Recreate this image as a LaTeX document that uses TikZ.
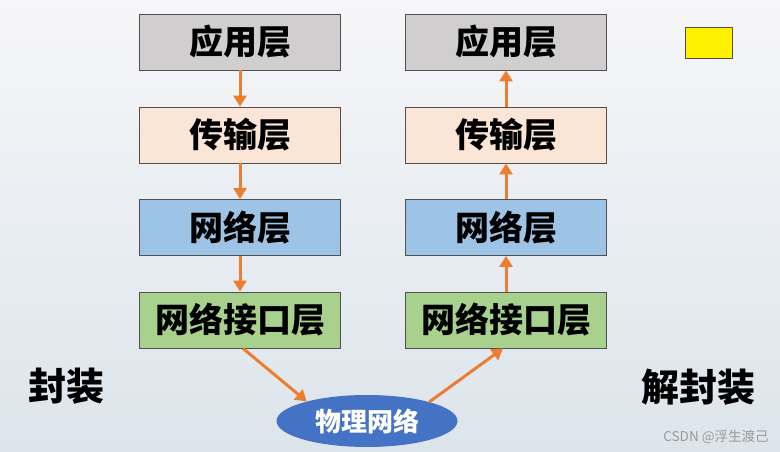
\documentclass[tikz,border=0pt]{standalone}
\usepackage{fontspec}
\newfontfamily\cjk{Noto Sans CJK SC}
\usetikzlibrary{arrows.meta,shapes.geometric}
\definecolor{grayfill}{HTML}{D0CECE}
\definecolor{peach}{HTML}{FBE5D6}
\definecolor{bluefill}{HTML}{9DC3E6}
\definecolor{greenfill}{HTML}{A9D18E}
\definecolor{ellblue}{HTML}{4472C4}
\definecolor{arrowc}{HTML}{ED7D31}
\definecolor{edge}{HTML}{505050}
\definecolor{bgtop}{HTML}{F6F6F8}
\definecolor{bgbot}{HTML}{DCE5EB}
\tikzset{
  layer/.style={draw=edge, line width=0.9pt, minimum width=201pt, minimum height=56pt,
    inner sep=0pt, font=\cjk\bfseries\fontsize{34}{38}\selectfont},
  flow/.style={draw=arrowc, line width=3pt, -{Triangle[length=11pt,width=13pt]}},
  side/.style={font=\cjk\bfseries\fontsize{38}{42}\selectfont},
}
\begin{document}
\begin{tikzpicture}[x=1pt,y=-1pt]
\shade[top color=bgtop, bottom color=bgbot] (0,0) rectangle (780,452);
\useasboundingbox (0,0) rectangle (780,452);
% left column
\node[layer, fill=grayfill]  (l1) at (240,42)  {应用层};
\node[layer, fill=peach]     (l2) at (240,135) {传输层};
\node[layer, fill=bluefill]  (l3) at (240,227.5) {网络层};
\node[layer, fill=greenfill] (l4) at (240,320) {网络接口层};
% right column
\node[layer, fill=grayfill]  (r1) at (506,42)  {应用层};
\node[layer, fill=peach]     (r2) at (506,135) {传输层};
\node[layer, fill=bluefill]  (r3) at (506,227.5) {网络层};
\node[layer, fill=greenfill] (r4) at (506,320) {网络接口层};
% physical network
\node[ellipse, fill=ellblue, minimum width=181pt, minimum height=52pt, inner sep=0pt,
  text=white, font=\cjk\bfseries\fontsize{26}{30}\selectfont] (phys) at (367,421) {物理网络};
% yellow marker
\node[draw=edge, line width=0.9pt, fill=yellow, minimum width=47pt, minimum height=31pt, inner sep=0pt] (mark) at (709,43) {};
% side labels
\node[side] (enc) at (66,386) {封装};
\node[side] (dec) at (698,387) {解封装};
\node[font=\cjk\fontsize{13.5}{16}\selectfont, text=black!40] (wm) at (716,437) {CSDN @浮生渡己};
% arrows
\draw[flow] (l1.south) -- (l2.north);
\draw[flow] (l2.south) -- (l3.north);
\draw[flow] (l3.south) -- (l4.north);
\draw[flow] ([xshift=3pt]l4.south) -- (phys.162);
\draw[flow] (phys.17) -- ([xshift=-3pt]r4.south);
\draw[flow] (r4.north) -- (r3.south);
\draw[flow] (r3.north) -- (r2.south);
\draw[flow] (r2.north) -- (r1.south);
\end{tikzpicture}
\end{document}
